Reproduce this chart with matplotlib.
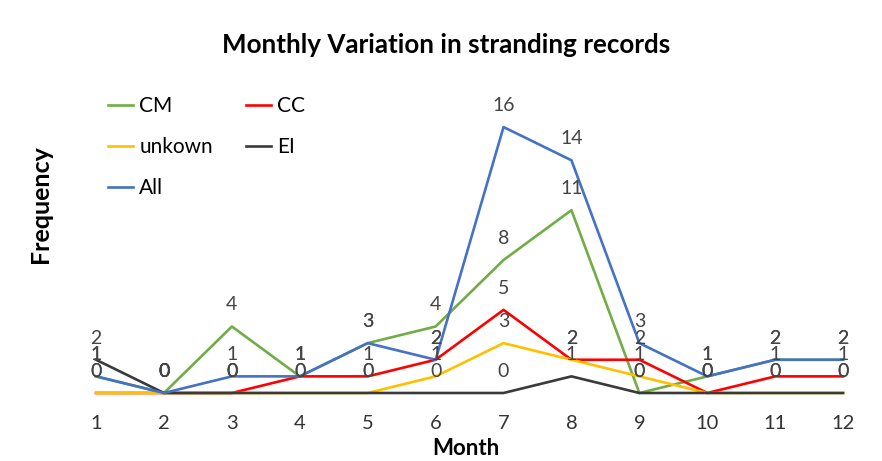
import matplotlib
matplotlib.use("Agg")
import matplotlib.pyplot as plt

plt.rcParams['font.family'] = ['Lato', 'DejaVu Sans']

months = [1, 2, 3, 4, 5, 6, 7, 8, 9, 10, 11, 12]
cm = [1, 0, 4, 1, 3, 4, 8, 11, 0, 1, 2, 2]
cc = [0, 0, 0, 1, 1, 2, 5, 2, 2, 0, 1, 1]
unkown = [0, 0, 0, 0, 0, 1, 3, 2, 1, 0, 0, 0]
ei = [2, 0, 0, 0, 0, 0, 0, 1, 0, 0, 0, 0]
all_records = [1, 0, 1, 1, 3, 2, 16, 14, 3, 1, 2, 2]

series = [
    ("CM", cm, "#70AD47"),
    ("CC", cc, "#FF0000"),
    ("unkown", unkown, "#FFC000"),
    ("EI", ei, "#3A3A3A"),
    ("All", all_records, "#4472C4"),
]

fig = plt.figure(figsize=(8.82, 4.61), dpi=100)
ax = fig.add_axes([0.0704, 0.1295, 0.924, 0.667])

lines = {}
for name, vals, col in series:
    ln, = ax.plot(months, vals, color=col, lw=1.9, label=name)
    lines[name] = ln
    # value labels above every point, like the excel chart
    for m, v in zip(months, vals):
        ax.annotate(str(v), (m, v), xytext=(0, 15.5), textcoords="offset points",
                    ha="center", va="center", fontsize=14, color="#444444")

ax.set_xlim(0.5, 12.5)
ax.set_ylim(-0.5, 18)
ax.set_xticks(months)
ax.set_xticklabels([str(m) for m in months], fontsize=14.5, color="#333333")
ax.set_yticks([])
ax.tick_params(axis="x", length=0, pad=10)
for s in ax.spines.values():
    s.set_visible(False)

ax.set_xlabel("Month", fontsize=16, fontweight="bold")
ax.xaxis.set_label_coords(0.496, -0.118)
ax.set_ylabel("Frequency", fontsize=18, fontweight="bold")
ax.yaxis.set_label_coords(-0.012, 0.64)

fig.text(446 / 882, 1 - 45 / 461, "Monthly Variation in stranding records",
         ha="center", va="center", fontsize=18.7, fontweight="bold")

order = ["CM", "unkown", "All", "CC", "EI"]
ax.legend([lines[k] for k in order], order, ncol=2, loc="upper left",
          bbox_to_anchor=(108 / 882, 1 - 96 / 461), bbox_transform=fig.transFigure,
          frameon=False, fontsize=15, handlelength=1.2, handletextpad=0.3,
          labelspacing=1.02, columnspacing=1.6, borderpad=0, borderaxespad=0)

fig.savefig("out.png", dpi=100)
